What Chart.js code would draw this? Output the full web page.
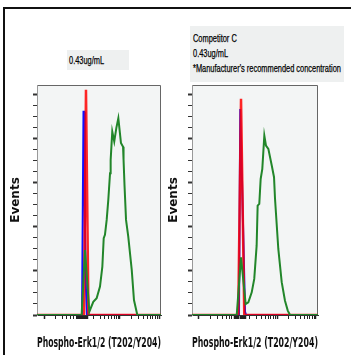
<!DOCTYPE html>
<html>
<head>
<meta charset="utf-8">
<script src="https://cdn.jsdelivr.net/npm/chart.js@4"></script>
<style>
  body { margin: 0; background: #fff; }
  #wrap { position: relative; width: 351px; height: 355px; overflow: hidden; }
  .frame { position: absolute; left: 3px; top: 7px; width: 360px; height: 360px;
           border-top: 2px solid #111; border-left: 2px solid #111; }
  .box { position: absolute; background: #eef0f0; color: #000; box-sizing: border-box;
         font-family: "Liberation Sans", Arial, sans-serif;
         font-size: 11px; line-height: 15px; white-space: nowrap; }
  .box span { display: inline-block; transform: scaleX(0.675); transform-origin: left center;
              -webkit-text-stroke: 0.25px #000; }
  canvas { position: absolute; }
</style>
</head>
<body>
<div id="wrap">
  <div class="frame"></div>
  <div class="box" style="left:67px; top:50px; width:62px; height:20px; padding:3px 0 0 2px;"><span>0.43ug/mL</span></div>
  <div class="box" style="left:190px; top:26px; width:154px; height:56px; padding:5px 0 0 3px;"><span>Competitor C<br>0.43ug/mL<br>*Manufacturer's recommended concentration</span></div>
  <div style="position:absolute; left:0; top:80px; width:165px; height:275px;"><canvas id="left"></canvas></div>
  <div style="position:absolute; left:165px; top:80px; width:186px; height:275px;"><canvas id="right"></canvas></div>
</div>
<script>
// channel scale 0-1000, events 0-1045
const leftGreenX = [0, 360, 387, 422, 454, 481, 508, 527, 538, 548, 562, 575, 589, 594, 607, 623, 640, 656, 677, 694, 698, 706, 718, 736, 764, 782, 809, 1000];
const leftGreenY = [0, 0, 295, 15, 60, 76, 129, 220, 349, 364, 432, 523, 644, 705, 833, 788, 850, 894, 782, 764, 705, 586, 432, 356, 205, 68, 0, 0];
const leftBlueX = [0, 363, 375, 381, 387, 395, 403, 1000];
const leftBlueY = [0, 0, 923, 923, 386, 114, 0, 0];
const leftRedX = [0, 379, 395, 415, 1000];
const leftRedY = [0, 0, 1023, 0, 0];

const rightGreenX = [0, 355, 389, 426, 447, 474, 494, 513, 521, 534, 545, 558, 574, 587, 606, 633, 651, 659, 685, 712, 738, 760, 778, 1000];
const rightGreenY = [0, 0, 262, 50, 58, 103, 164, 315, 497, 505, 618, 664, 815, 770, 755, 679, 626, 527, 300, 149, 65, 20, 0, 0];
const rightBlueX = [0, 373, 383, 393, 421, 429, 1000];
const rightBlueY = [0, 0, 936, 709, 14, 0, 0];
const rightRedX = [0, 367, 389, 415, 1000];
const rightRedY = [0, 0, 982, 0, 0];

const leftDecades = [57, 363, 669, 984];
const rightDecades = [55, 365, 675, 984];
const yMajor = [0, 200, 400, 600, 800, 1000];

function pts(xs, ys) { return xs.map((x, i) => ({ x: x, y: ys[i] })); }

function xTicks(decades, zeroFrom, zeroTo) {
  const out = [];
  for (let d = 0; d < decades.length; d++) {
    out.push({ value: decades[d], major: true });
    if (d < decades.length - 1) {
      const span = decades[d + 1] - decades[d];
      for (let k = 2; k <= 9; k++) out.push({ value: decades[d] + span * Math.log10(k), major: false });
    }
  }
  for (let v = zeroFrom; v <= zeroTo; v += 8) out.push({ value: v, major: true });
  return out;
}

const plotBg = {
  id: 'plotBg',
  beforeDraw(chart) {
    const a = chart.chartArea, c = chart.ctx;
    c.save();
    c.fillStyle = '#f3f5f5';
    c.fillRect(a.left, a.top, a.right - a.left, a.bottom - a.top);
    c.strokeStyle = '#666';
    c.lineWidth = 1;
    c.beginPath();
    c.moveTo(a.left, a.top + 0.5);
    c.lineTo(a.right - 0.5, a.top + 0.5);
    c.lineTo(a.right - 0.5, a.bottom);
    c.stroke();
    c.restore();
  }
};

function makeChart(id, g, b, r, decades, zero, yWidth, yTitlePad, padRight) {
  const ctx = document.getElementById(id).getContext('2d');
  return new Chart(ctx, {
    type: 'line',
    data: {
      datasets: [
        { label: 'Stimulated', data: g, borderColor: '#22862a', borderWidth: 2 },
        { label: 'Isotype', data: r, borderColor: 'rgba(255,0,0,0.85)', borderWidth: 2.5 },
        { label: 'Unstimulated', data: b, borderColor: '#1010ff', borderWidth: 2 }
      ]
    },
    options: {
      responsive: true,
      maintainAspectRatio: false,
      animation: false,
      layout: { padding: { top: 5, right: padRight, left: 0, bottom: 0 } },
      elements: { point: { radius: 0 }, line: { tension: 0, fill: false } },
      plugins: { legend: { display: false }, tooltip: { enabled: false } },
      scales: {
        x: {
          type: 'linear', min: 0, max: 1000,
          afterFit(s) { s.height = 40; },
          afterBuildTicks(s) { s.ticks = xTicks(decades, zero[0], zero[1]); },
          ticks: { display: false },
          grid: { drawOnChartArea: false, tickLength: 4, color: '#222',
                  tickWidth: c => (c.tick && c.tick.major ? 1.5 : 1) },
          border: { color: '#333', width: 1 },
          title: { display: true, text: 'Phospho-Erk1/2 (T202/Y204)', color: '#111',
                   font: { family: '"DejaVu Sans Condensed", sans-serif', size: 13.5, weight: 'bold' },
                   padding: { top: 0, bottom: 3 } }
        },
        y: {
          type: 'linear', min: 0, max: 1045,
          afterFit(s) { s.width = yWidth; },
          afterBuildTicks(s) {
            const t = [];
            for (let v = 0; v <= 1000; v += 50) t.push({ value: v, major: yMajor.includes(v) });
            s.ticks = t;
          },
          ticks: { display: false },
          grid: { drawOnChartArea: false, tickLength: 4, color: '#333',
                  tickWidth: c => (c.tick && c.tick.major ? 2 : 1) },
          border: { color: '#999', width: 1 },
          title: { display: true, text: 'Events', color: '#111',
                   font: { family: '"DejaVu Sans", sans-serif', size: 12, weight: 'bold' },
                   padding: { top: yTitlePad, bottom: 0 } }
        }
      }
    },
    plugins: [plotBg]
  });
}

makeChart('left', pts(leftGreenX, leftGreenY), pts(leftBlueX, leftBlueY), pts(leftRedX, leftRedY),
          leftDecades, [323, 411], 37, 9, 4);
makeChart('right', pts(rightGreenX, rightGreenY), pts(rightBlueX, rightBlueY), pts(rightRedX, rightRedY),
          rightDecades, [341, 421], 27, 2, 33);
</script>
</body>
</html>
